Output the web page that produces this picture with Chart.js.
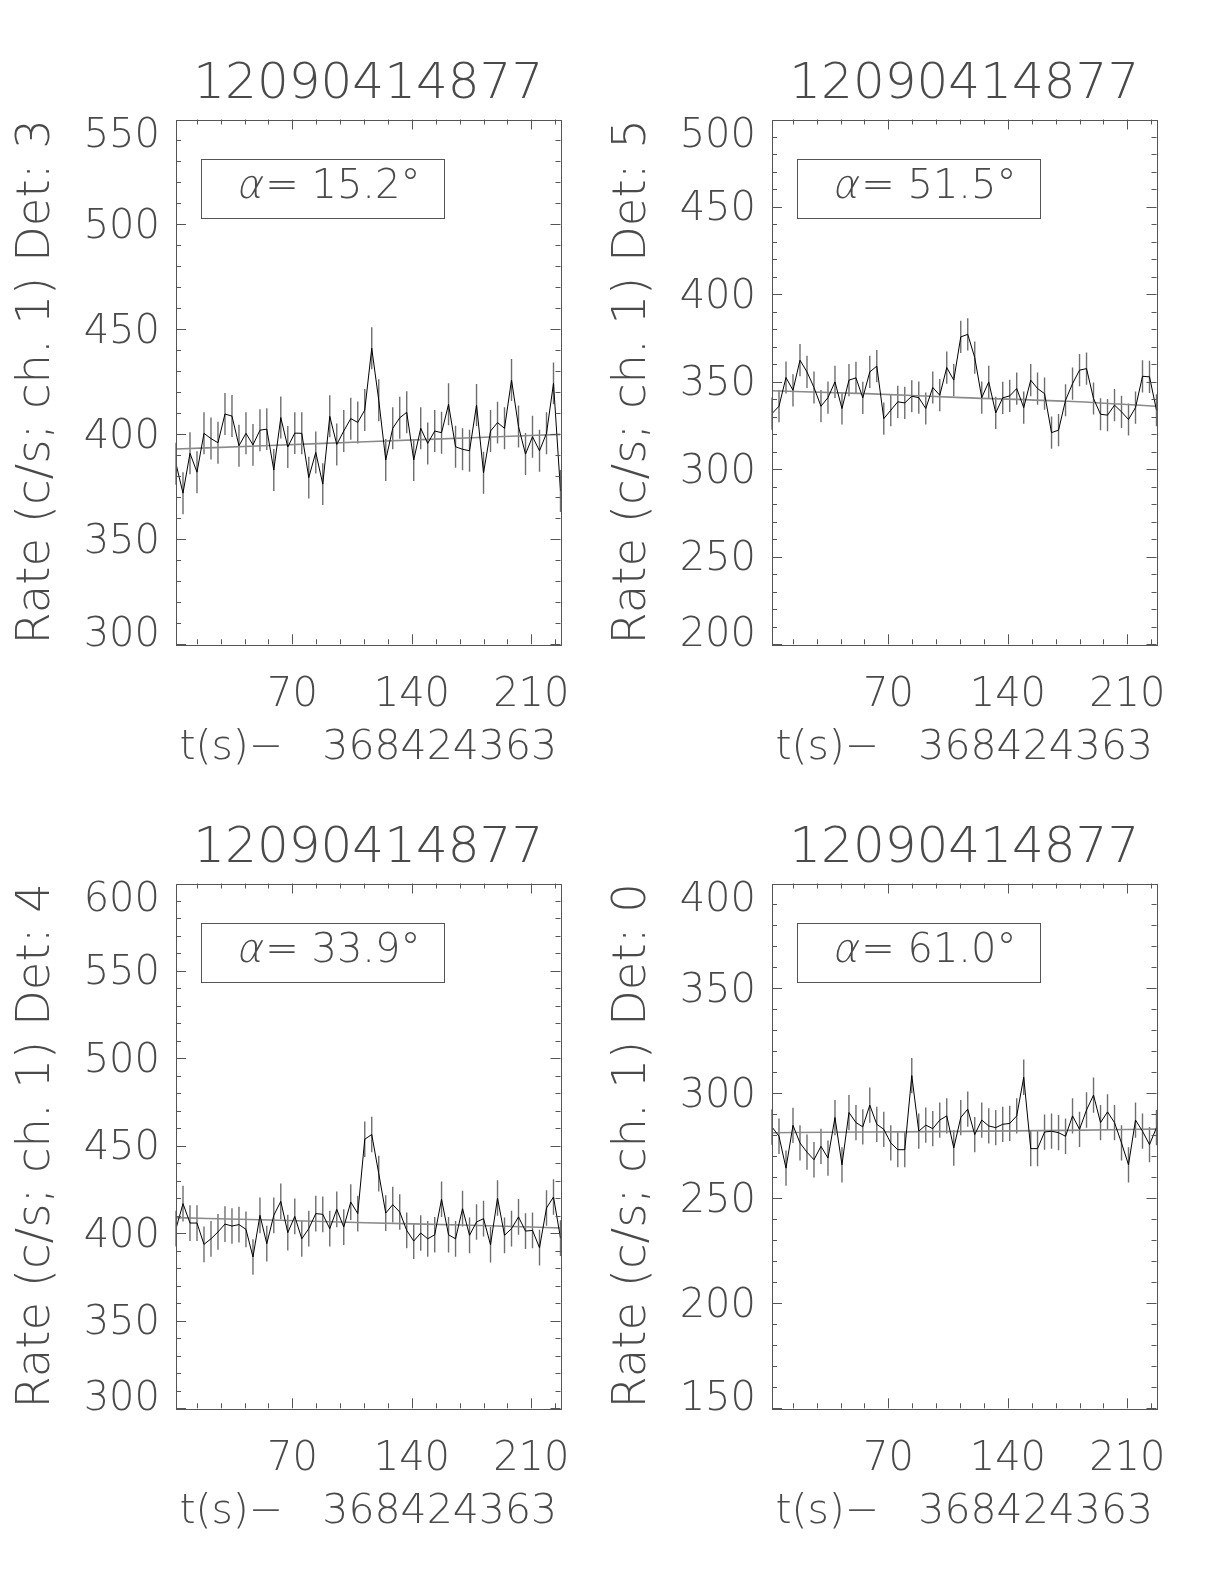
<!DOCTYPE html>
<html><head><meta charset="utf-8">
<script src="https://cdn.jsdelivr.net/npm/chart.js@4.4.1/dist/chart.umd.min.js"></script>
<style>
html,body{margin:0;padding:0;background:#fff;}
body{width:1224px;height:1584px;position:relative;overflow:hidden;}
canvas{position:absolute;}
</style></head><body>
<canvas id="c0" width="612" height="792" style="left:0px;top:0px"></canvas>
<canvas id="c1" width="612" height="792" style="left:596px;top:0px"></canvas>
<canvas id="c2" width="612" height="792" style="left:0px;top:764px"></canvas>
<canvas id="c3" width="612" height="792" style="left:596px;top:764px"></canvas>
<script>
// ---------------- data ----------------
const chartTitle = '12090414877';
const xAxisTitle = 't(s)\u2212   368424363';
const xTickValues = [70, 140, 210];
const times = [1.8, 5.9, 10.0, 14.1, 18.2, 22.3, 26.4, 30.5, 34.6, 38.7,
  42.8, 46.9, 51.0, 55.0, 59.1, 63.2, 67.3, 71.4, 75.5, 79.6,
  83.7, 87.8, 91.9, 96.0, 100.1, 104.2, 108.3, 112.4, 116.5, 120.6,
  124.7, 128.8, 132.9, 137.0, 141.1, 145.2, 149.3, 153.4, 157.4, 161.5,
  165.6, 169.7, 173.8, 177.9, 182.0, 186.1, 190.2, 194.3, 198.4, 202.5,
  206.6, 210.7, 214.8, 218.9, 223.0, 227.1];

const rateDet3 = [386, 372, 391, 382, 400.5, 398, 396, 409.7, 408.7, 394.6,
  400.5, 395, 402, 402.5, 383, 408, 394, 400.6, 400.5, 379.4,
  391.4, 376.3, 408.6, 395.2, 401.6, 407.5, 405.7, 411.6, 441, 416.3,
  387.8, 402.9, 407.9, 410.5, 387.8, 402.9, 395.7, 401.6, 400.8, 414.3,
  394.1, 392.9, 392.2, 414, 381.7, 401.6, 405.6, 402.9, 425.9, 403.7,
  390.6, 398.9, 392.2, 400.5, 424.3, 373];
const rateDet5 = [331.9, 336.1, 352.5, 345.2, 362.4, 355.7, 346.8, 336.1, 341, 350,
  334.8, 351, 352.3, 340.9, 355.7, 359, 329, 333.8, 338.6, 338,
  341.8, 341, 334.8, 346.8, 342.4, 358.2, 351, 375.7, 377.2, 363.9,
  341, 350, 332.3, 340.9, 342, 346.2, 335.3, 351, 346.2, 343.3,
  321, 322.4, 339.5, 349, 356.7, 357.6, 340.5, 331.5, 331, 336.7,
  332.9, 328.5, 335.3, 353.2, 352.9, 333.8];
const rateDet4 = [402.7, 417, 405.9, 405.9, 393.7, 396.9, 400.8, 405.3, 404.2, 405,
  402.3, 386.5, 410.3, 394.1, 410.3, 418.3, 400.4, 409.7, 396.9, 402.7,
  411.3, 410.9, 402.7, 413.7, 403.6, 417.9, 411.3, 453.8, 456.5, 434.2,
  411.6, 416.4, 412.2, 401.7, 395.6, 400.2, 396.9, 399.2, 419.5, 399.2,
  396.9, 414.1, 398.9, 406.5, 408.4, 393.5, 420.2, 398.9, 402.7, 409.4,
  401.3, 401.7, 391.8, 414.5, 420.8, 397.3];
const rateDet0 = [284, 279.6, 264.4, 284.8, 276.4, 272, 268.4, 274.8, 269.2, 288.5,
  266, 290.9, 286.1, 284.1, 294.4, 285.3, 282.9, 276.4, 273.2, 273.2,
  308.5, 282, 284.9, 283.2, 287.3, 289.3, 274, 288.5, 292.5, 280.4,
  287.3, 284.5, 283.7, 285.3, 285.7, 289.3, 307.7, 273.7, 273.7, 281.6,
  282, 281.3, 279.6, 289.3, 282.9, 292.1, 299.2, 286.1, 291.2, 286.1,
  276.4, 266, 287.3, 282, 275.6, 283.7];

// background fit curves
const fitTimes = [1.8, 57, 113, 175, 227.1];
const fitDet3 = [393.0, 394.7, 396.5, 398.4, 400.0];
const fitDet5 = [344.9, 343.3, 341.0, 338.9, 336.1];
const fitDet4 = [409.0, 407.6, 406.1, 404.6, 403.1];
const fitDet0 = [281.3, 281.6, 281.9, 282.4, 283.0];

// error bar half-widths (c/s)
const errDet3 = 10, errDet5 = 9.2, errDet4 = 10.2, errDet0 = 8.4;

const detectors = ['3', '5', '4', '0'];
const alphaValues = ['15.2', '51.5', '33.9', '61.0'];
const yMins = [300, 200, 300, 150];
const yMaxs = [550, 500, 600, 400];

const panels = [
  {id:'c0', det:detectors[0], alpha:alphaValues[0], rates:rateDet3, fit:fitDet3, err:errDet3, ymin:yMins[0], ymax:yMaxs[0]},
  {id:'c1', det:detectors[1], alpha:alphaValues[1], rates:rateDet5, fit:fitDet5, err:errDet5, ymin:yMins[1], ymax:yMaxs[1]},
  {id:'c2', det:detectors[2], alpha:alphaValues[2], rates:rateDet4, fit:fitDet4, err:errDet4, ymin:yMins[2], ymax:yMaxs[2]},
  {id:'c3', det:detectors[3], alpha:alphaValues[3], rates:rateDet0, fit:fitDet0, err:errDet0, ymin:yMins[3], ymax:yMaxs[3]}
];

// ---------------- style ----------------
const FONT = '"DejaVu Sans", "Liberation Sans", sans-serif';
const TXT = '#4a4a4a';
const TICK_SIZE = 40;
Chart.defaults.font.family = FONT;
Chart.defaults.font.weight = '200';
Chart.defaults.color = TXT;

function makePlugin(panel) {
  return {
    id: 'idlframe',
    beforeDatasetsDraw(chart) {
      const {ctx, scales:{x, y}} = chart;
      const ds = chart.data.datasets[0].data;
      ctx.save();
      ctx.strokeStyle = '#6e6e6e';
      ctx.lineWidth = 1.4;
      ctx.beginPath();
      ds.forEach(p => {
        const px = x.getPixelForValue(p.x);
        ctx.moveTo(px, y.getPixelForValue(p.y - panel.err));
        ctx.lineTo(px, y.getPixelForValue(p.y + panel.err));
      });
      ctx.stroke();
      ctx.restore();
    },
    afterDraw(chart) {
      const {ctx, chartArea:ca, scales:{x, y}} = chart;
      ctx.save();
      // frame
      ctx.strokeStyle = '#555';
      ctx.lineWidth = 1;
      ctx.strokeRect(Math.round(ca.left)+0.5, Math.round(ca.top)+0.5,
                     Math.round(ca.right-ca.left), Math.round(ca.bottom-ca.top));
      // inward ticks
      ctx.beginPath();
      const minorX = 14, majorX = 70, minorY = 10, majorY = 50;
      for (let v = Math.ceil(x.min/minorX)*minorX; v <= x.max; v += minorX) {
        const px = Math.round(x.getPixelForValue(v)) + 0.5;
        const L = (v % majorX === 0) ? 10 : 5;
        ctx.moveTo(px, ca.bottom); ctx.lineTo(px, ca.bottom - L);
        ctx.moveTo(px, ca.top); ctx.lineTo(px, ca.top + L);
      }
      for (let v = Math.ceil(y.min/minorY)*minorY; v <= y.max; v += minorY) {
        const py = Math.round(y.getPixelForValue(v)) + 0.5;
        const L = (v % majorY === 0) ? 10 : 5;
        ctx.moveTo(ca.left, py); ctx.lineTo(ca.left + L, py);
        ctx.moveTo(ca.right, py); ctx.lineTo(ca.right - L, py);
      }
      ctx.stroke();
      // end tick labels kept inside the axis extent (IDL style)
      const tk = y.ticks;
      ctx.fillStyle = TXT;
      ctx.font = '200 ' + TICK_SIZE + 'px ' + FONT;
      ctx.textAlign = 'right';
      ctx.textBaseline = 'middle';
      const lx = ca.left - 16;
      ctx.fillText(String(tk[tk.length-1].value), lx, ca.top + 17);
      ctx.fillText(String(tk[0].value), lx, ca.bottom - 9);
      // legend box
      const bx = ca.left + 25, by = ca.top + 39.5, bw = 243.4, bh = 59.3;
      ctx.strokeStyle = '#555';
      ctx.strokeRect(Math.round(bx)+0.5, Math.round(by)+0.5, Math.round(bw), Math.round(bh));
      const fb = '200 40px ' + FONT;
      const rest = '= ' + panel.alpha + '\u00B0';
      ctx.font = fb;
      const wa = ctx.measureText('\u03B1').width;
      const wb = ctx.measureText(rest).width;
      const sx = bx + bw/2 - (wa + wb)/2 + 6;
      const sy = by + bh/2 - 1;
      ctx.textAlign = 'left';
      // slanted alpha
      ctx.save();
      ctx.translate(sx, sy);
      ctx.transform(1, 0, -0.22, 1, 0, 0);
      ctx.fillText('\u03B1', 0, 0);
      ctx.restore();
      ctx.fillText(rest, sx + wa + 1, sy);
      ctx.restore();
    }
  };
}

panels.forEach(panel => {
  const ctx = document.getElementById(panel.id).getContext('2d');
  new Chart(ctx, {
    type: 'line',
    data: {
      datasets: [
        { data: times.map((t, i) => ({x: t, y: panel.rates[i]})),
          borderColor: '#000', borderWidth: 1, pointRadius: 0, tension: 0, fill: false },
        { data: fitTimes.map((t, i) => ({x: t, y: panel.fit[i]})),
          borderColor: '#8a8a8a', borderWidth: 1.6, pointRadius: 0,
          cubicInterpolationMode: 'monotone', fill: false }
      ]
    },
    options: {
      responsive: false,
      devicePixelRatio: 1,
      animation: false,
      events: [],
      layout: { padding: { left: 0, right: 51.5, top: 0, bottom: 0 } },
      plugins: {
        legend: { display: false },
        tooltip: { enabled: false },
        title: {
          display: true, text: chartTitle, fullSize: false, color: TXT,
          font: { size: 50, lineHeight: 1, weight: '200' },
          padding: { top: 60.5, bottom: 9 }
        }
      },
      scales: {
        x: {
          type: 'linear',
          min: times[0], max: times[times.length - 1],
          afterBuildTicks: s => { s.ticks = xTickValues.map(v => ({ value: v })); },
          afterFit: s => { s.height = 147.7; },
          grid: { display: false, drawTicks: false },
          border: { display: false },
          ticks: { color: TXT, font: { size: TICK_SIZE, lineHeight: 1 }, padding: 31.7,
                   maxRotation: 0, autoSkip: false },
          title: { display: true, text: xAxisTitle, color: TXT,
                   font: { size: 41, lineHeight: 1 }, padding: { top: 0, bottom: 23.5 } }
        },
        y: {
          type: 'linear',
          min: panel.ymin, max: panel.ymax,
          afterFit: s => { s.width = 176; },
          grid: { display: false, drawTicks: false },
          border: { display: false },
          ticks: { stepSize: 50, padding: 16, labelOffset: 3, font: { size: TICK_SIZE, lineHeight: 1 },
                   color: c => (c.tick && (c.tick.value === panel.ymin || c.tick.value === panel.ymax)) ? 'rgba(0,0,0,0)' : TXT },
          title: { display: true, text: 'Rate (c/s; ch. 1) Det: ' + panel.det, color: TXT,
                   font: { size: 46.5, lineHeight: 1 }, padding: { top: 14, bottom: 0 } }
        }
      }
    },
    plugins: [makePlugin(panel)]
  });
});
</script>
</body></html>
